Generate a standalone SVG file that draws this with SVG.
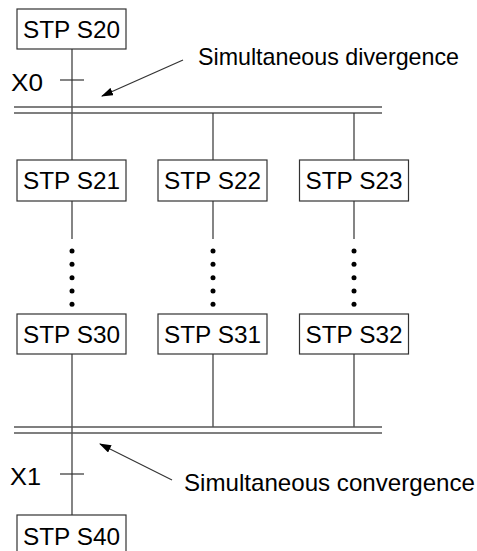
<svg xmlns="http://www.w3.org/2000/svg" width="477" height="551" viewBox="0 0 477 551">
<style>
.box{fill:#fff;stroke:#333;stroke-width:1.2}
.bt{font-family:"Liberation Sans",Arial,sans-serif;font-size:23.5px;fill:#000;text-anchor:middle}
.lb{font-family:"Liberation Sans",Arial,sans-serif;font-size:24px;fill:#000}
.ln{stroke:#333;stroke-width:1.2;fill:none}
.bus{stroke:#555;stroke-width:1.6;fill:none}
.dot{fill:#000}
</style>
<defs>
<marker id="ah" markerWidth="12" markerHeight="8" refX="11" refY="4" orient="auto" markerUnits="userSpaceOnUse">
<path d="M0,0 L12,4 L0,8 Z" fill="#000"/>
</marker>
</defs>
<rect width="477" height="551" fill="#fff"/>
<g id="connectors">
<line class="ln" x1="72" y1="49" x2="72" y2="160"/>
<line class="ln" x1="60" y1="80" x2="84" y2="80"/>
<line class="bus" x1="14" y1="107" x2="382" y2="107"/>
<line class="bus" x1="14" y1="113" x2="382" y2="113"/>
<line class="ln" x1="213" y1="113" x2="213" y2="160"/>
<line class="ln" x1="354" y1="113" x2="354" y2="160"/>
<line class="ln" x1="72" y1="201" x2="72" y2="239"/>
<line class="ln" x1="213" y1="201" x2="213" y2="239"/>
<line class="ln" x1="354" y1="201" x2="354" y2="239"/>
<g class="dot">
<circle cx="72" cy="251" r="2.5"/><circle cx="72" cy="264.3" r="2.5"/><circle cx="72" cy="277.7" r="2.5"/><circle cx="72" cy="291" r="2.5"/><circle cx="72" cy="304.3" r="2.5"/>
<circle cx="213" cy="251" r="2.5"/><circle cx="213" cy="264.3" r="2.5"/><circle cx="213" cy="277.7" r="2.5"/><circle cx="213" cy="291" r="2.5"/><circle cx="213" cy="304.3" r="2.5"/>
<circle cx="354" cy="251" r="2.5"/><circle cx="354" cy="264.3" r="2.5"/><circle cx="354" cy="277.7" r="2.5"/><circle cx="354" cy="291" r="2.5"/><circle cx="354" cy="304.3" r="2.5"/>
</g>
<line class="ln" x1="72" y1="354" x2="72" y2="515"/>
<line class="ln" x1="213" y1="354" x2="213" y2="427"/>
<line class="ln" x1="354" y1="354" x2="354" y2="427"/>
<line class="bus" x1="14" y1="427" x2="382" y2="427"/>
<line class="bus" x1="14" y1="433" x2="382" y2="433"/>
<line class="ln" x1="60" y1="474" x2="84" y2="474"/>
<line class="ln" x1="183" y1="60" x2="102" y2="96" marker-end="url(#ah)"/>
<line class="ln" x1="172" y1="480" x2="100" y2="444" marker-end="url(#ah)"/>
</g>
<g id="S20"><rect class="box" x="17" y="9" width="109" height="40"/><text class="bt" x="71.5" y="37.5" textLength="97" lengthAdjust="spacingAndGlyphs">STP S20</text></g>
<g id="S21"><rect class="box" x="17" y="160" width="109" height="41"/><text class="bt" x="71.5" y="188.5" textLength="97" lengthAdjust="spacingAndGlyphs">STP S21</text></g>
<g id="S22"><rect class="box" x="158" y="160" width="109" height="41"/><text class="bt" x="212.5" y="188.5" textLength="97" lengthAdjust="spacingAndGlyphs">STP S22</text></g>
<g id="S23"><rect class="box" x="299.5" y="160" width="109" height="41"/><text class="bt" x="354" y="188.5" textLength="97" lengthAdjust="spacingAndGlyphs">STP S23</text></g>
<g id="S30"><rect class="box" x="17" y="314" width="109" height="40"/><text class="bt" x="71.5" y="342.5" textLength="97" lengthAdjust="spacingAndGlyphs">STP S30</text></g>
<g id="S31"><rect class="box" x="158" y="314" width="109" height="40"/><text class="bt" x="212.5" y="342.5" textLength="97" lengthAdjust="spacingAndGlyphs">STP S31</text></g>
<g id="S32"><rect class="box" x="299.5" y="314" width="109" height="40"/><text class="bt" x="354" y="342.5" textLength="97" lengthAdjust="spacingAndGlyphs">STP S32</text></g>
<g id="S40"><rect class="box" x="17" y="515" width="109" height="44"/><text class="bt" x="71.5" y="545" textLength="97" lengthAdjust="spacingAndGlyphs">STP S40</text></g>
<g id="labels">
<text class="lb" x="11" y="91" textLength="32" lengthAdjust="spacingAndGlyphs">X0</text>
<text class="lb" x="10" y="484.5" textLength="31" lengthAdjust="spacingAndGlyphs">X1</text>
<text class="lb" x="198" y="64.5" textLength="261" lengthAdjust="spacingAndGlyphs">Simultaneous divergence</text>
<text class="lb" x="184" y="491" textLength="291" lengthAdjust="spacingAndGlyphs">Simultaneous convergence</text>
</g>
</svg>
